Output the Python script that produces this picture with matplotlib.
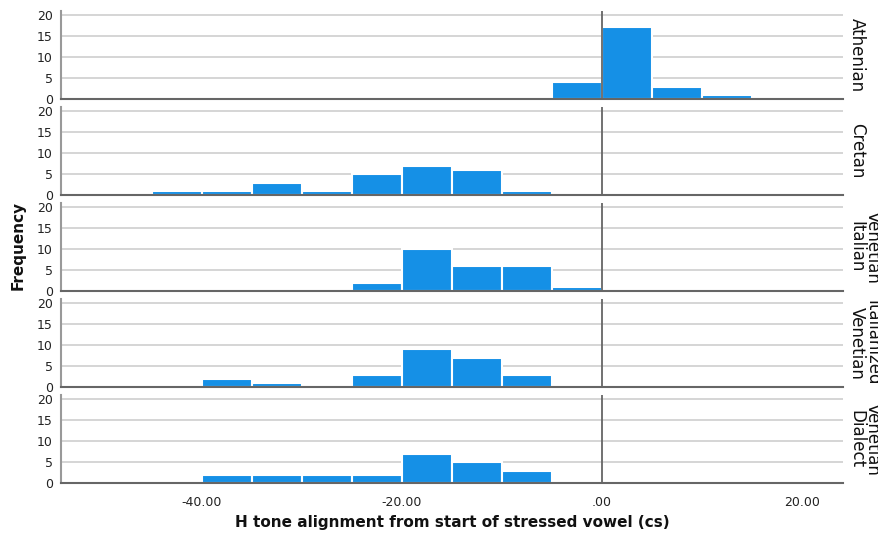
import numpy as np
import matplotlib.pyplot as plt

# histogram bins (left edges, width 5 cs)
bin_left = np.arange(-45, 15, 5)
BIN_W = 5

groups = ["Athenian", "Cretan", "Venetian\nItalian", "Italianized\nVenetian", "Venetian\nDialect"]

# counts per bin, bins -45 .. 10
athenian = [0, 0, 0, 0, 0, 0, 0, 0, 4, 17, 3, 1]
cretan = [1, 1, 3, 1, 5, 7, 6, 1, 0, 0, 0, 0]
venetian_italian = [0, 0, 0, 0, 2, 10, 6, 6, 1, 0, 0, 0]
italianized_venetian = [0, 2, 1, 0, 3, 9, 7, 3, 0, 0, 0, 0]
venetian_dialect = [0, 2, 2, 2, 2, 7, 5, 3, 0, 0, 0, 0]
counts = [athenian, cretan, venetian_italian, italianized_venetian, venetian_dialect]

xticks = [-40, -20, 0, 20]
xticklabels = ["-40.00", "-20.00", ".00", "20.00"]
yticks = [0, 5, 10, 15, 20]

BAR = "#1590e6"
W, H = 879, 534
fig = plt.figure(figsize=(W / 100, H / 100), dpi=100)

left_px, right_px = 61, 843
panel_h = 88.3
for i, (name, c) in enumerate(zip(groups, counts)):
    top_px = 11 + 96 * i
    ax = fig.add_axes([left_px / W, 1 - (top_px + panel_h) / H,
                       (right_px - left_px) / W, panel_h / H])
    ax.bar(bin_left, c, width=BIN_W, align="edge", color=BAR,
           edgecolor="white", linewidth=1.5, zorder=2)
    ax.axvline(0, color="#666666", linewidth=1.3, zorder=3)
    ax.set_xlim(-54.1, 24.1)
    ax.set_ylim(0, 20.9)
    ax.set_yticks(yticks)
    ax.yaxis.grid(True, color="#d2d2d2", linewidth=1.3, zorder=0)
    ax.set_axisbelow(True)
    for s in ("top", "right"):
        ax.spines[s].set_visible(False)
    ax.spines["left"].set_color("#999999")
    ax.spines["left"].set_linewidth(1.5)
    ax.spines["bottom"].set_color("#666666")
    ax.spines["bottom"].set_linewidth(1.5)
    ax.tick_params(length=0, labelsize=9, colors="#222222", pad=6)
    ax.set_xticks(xticks)
    if i == len(groups) - 1:
        ax.set_xticklabels(xticklabels)
        ax.tick_params(axis="x", pad=9)
    else:
        ax.set_xticklabels([])
    ax.text(1.006, 0.5, name, transform=ax.transAxes, rotation=270,
            ha="left", va="center", multialignment="center",
            fontsize=12, color="#111111", linespacing=0.85)

fig.text(18 / W, 1 - 245 / H, "Frequency", rotation=90, ha="center",
         va="center", fontsize=11, fontweight="bold", color="#111111")
fig.text(452 / W, 1 - 523 / H, "H tone alignment from start of stressed vowel (cs)",
         ha="center", va="center", fontsize=11, fontweight="bold", color="#111111")

fig.savefig("out.png", dpi=100)
